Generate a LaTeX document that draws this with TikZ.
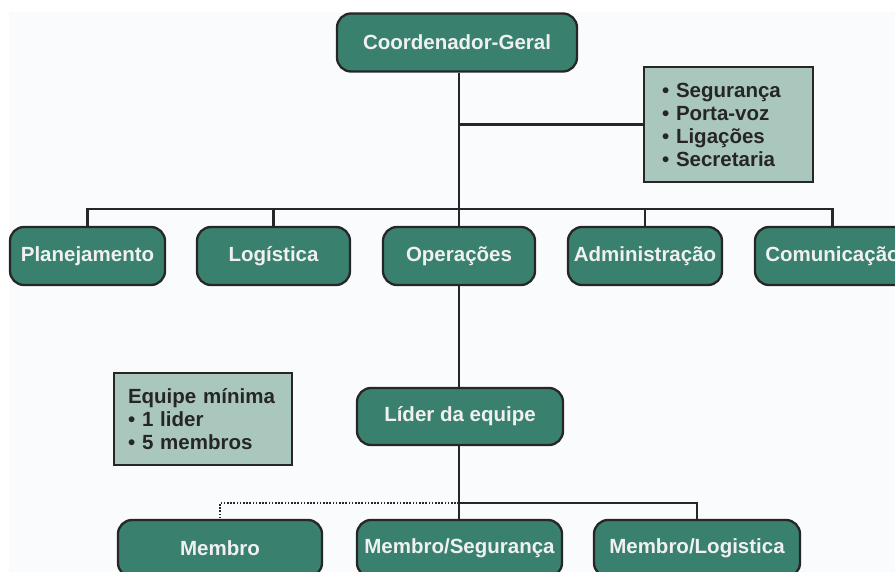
\documentclass[tikz,border=0pt]{standalone}
\usepackage{fontspec}
\setmainfont{Liberation Sans}
\usepackage{xcolor}
\definecolor{verde}{RGB}{57,128,111}
\definecolor{verdeclaro}{RGB}{170,199,190}
\definecolor{contorno}{RGB}{38,38,38}
\definecolor{fundo}{RGB}{250,251,253}

\begin{document}
\begin{tikzpicture}[x=1pt,y=-1pt,line width=2.3pt,
cargo/.style={rectangle,rounded corners=14pt,draw=contorno,fill=verde,text=white!94!black,
  font=\fontsize{20.5}{23}\selectfont\bfseries,inner sep=0pt,minimum height=58pt},
lista/.style={rectangle,draw=contorno,fill=verdeclaro,text=black!85,align=left,
  font=\fontsize{20.5}{23}\selectfont\bfseries,inner xsep=18pt,inner ysep=0pt}]
\clip (0,0) rectangle (895,572);
\fill[fundo] (9,12) rectangle (895,572);
\tikzstyle{ligacao}=[draw=contorno]

\node[cargo,minimum width=240pt] (cg) at (457,42.5) {Coordenador-Geral};
\node[lista,text width=133pt,minimum height=115pt] (apoio) at (728.5,124.5)
  {• Segurança\\• Porta-voz\\• Ligações\\• Secretaria};

% segunda linha
\node[cargo,minimum width=155pt] (plan) at (87.5,256) {Planejamento};
\node[cargo,minimum width=153pt] (log) at (273.5,256) {Logística};
\node[cargo,minimum width=152pt] (op) at (459,256) {Operações};
\node[cargo,minimum width=154pt] (adm) at (645,256) {Administração};
\node[cargo,minimum width=155pt] (com) at (832.5,256) {Comunicação};

\node[lista,text width=150pt,inner xsep=14pt,minimum height=92pt] (equipe) at (203,419)
  {Equipe mínima\\• 1 lider\\• 5 membros};
\node[cargo,minimum width=206pt,minimum height=57pt] (lider) at (460,416.5) {Líder da equipe};

% terceira linha
\node[cargo,minimum width=204pt,minimum height=57pt] (membro) at (220,548.5) {Membro};
\node[cargo,minimum width=205pt,minimum height=57pt] (mseg) at (459.5,548.5) {Membro/Segurança};
\node[cargo,minimum width=206pt,minimum height=57pt] (mlog) at (697,548.5) {Membro/Logistica};

\coordinate (barA) at (459,209);
\coordinate (barB) at (459,503);

\draw[ligacao] (cg.south -| barA) -- (barA);
\draw[ligacao] (barA |- apoio.west) -- (apoio.west);
\draw[ligacao] (plan.north) -- (plan.north |- barA) -- (com.north |- barA) -- (com.north);
\draw[ligacao] (log.north) -- (log.north |- barA);
\draw[ligacao] (adm.north) -- (adm.north |- barA);
\draw[ligacao] (barA) -- (op.north -| barA);
\draw[ligacao] (op.south -| barA) -- (lider.north -| barA);
\draw[ligacao] (lider.south -| barA) -- (mseg.north -| barA);
\draw[ligacao] (barB) -| (mlog.north);
\draw[ligacao,dash pattern=on 1.6pt off 1.6pt] (barB) -| (membro.north);
\end{tikzpicture}
\end{document}
